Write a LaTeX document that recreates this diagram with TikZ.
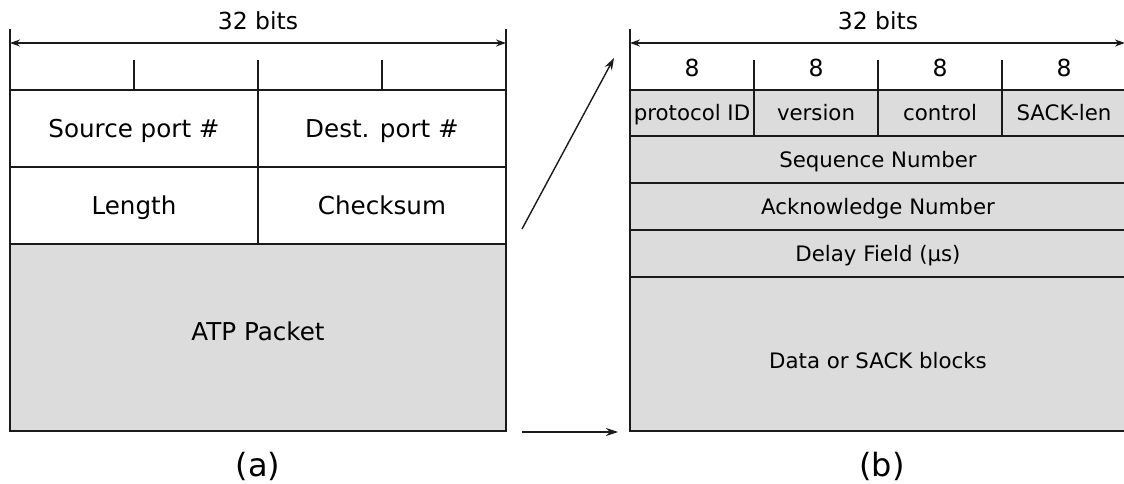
\documentclass[tikz,border=0pt]{standalone}
\usepackage{fontspec}
\setmainfont{DejaVu Sans}
\usetikzlibrary{arrows.meta}
\definecolor{fieldgray}{HTML}{DCDCDC}
\definecolor{ink}{HTML}{1A1A1A}
\begin{document}
\begin{tikzpicture}[x=1bp,y=-1bp,
  line/.style={draw=ink, line width=1.4bp},
  cell/.style={line, text depth=0pt, inner sep=0pt, anchor=north west, outer sep=0pt},
  big/.style={text height=18bp, font=\fontsize{24.6bp}{28bp}\selectfont},
  small/.style={text height=15.5bp, font=\fontsize{21.3bp}{24bp}\selectfont},
  head/.style={text height=17.1bp, text depth=0pt, inner sep=0pt, font=\fontsize{23.5bp}{27bp}\selectfont},
  grayfill/.style={fill=fieldgray},
  dim/.style={line, {Stealth[length=10bp,width=7bp]}-{Stealth[length=10bp,width=7bp]}},
  link/.style={line, -{Stealth[length=12bp,width=8bp]}},
  caption/.style={font=\fontsize{32bp}{36bp}\selectfont}
]
\useasboundingbox (0,0) rectangle (1124,484);

% ---------- (a) outer header ----------
\draw[line] (10,29) -- (10,90);
\draw[line] (506,29) -- (506,90);
\foreach \x in {134,258,382} \draw[line] (\x,60) -- (\x,90);
\coordinate (aL) at (10,43);
\coordinate (aR) at (506,43);
\draw[dim] (aL) -- (aR);
\node[head] (abits) at (258,21) {32 bits};

\node[cell, big, minimum width=248bp, minimum height=77bp] (src) at (10,90) {Source port \#};
\node[cell, big, minimum width=248bp, minimum height=77bp] (dst) at (258,90) {Dest. port \#};
\node[cell, big, minimum width=248bp, minimum height=77bp] (len) at (10,167) {Length};
\node[cell, big, minimum width=248bp, minimum height=77bp] (chk) at (258,167) {Checksum};
% payload label sits a little above the middle
\node[cell, big, grayfill, text depth=13bp, minimum width=496bp, minimum height=187bp] (atp) at (10,244) {ATP Packet};

\node[caption] (capa) at (258,466) {(a)};

% ---------- (b) ATP header ----------
\draw[line] (630,29) -- (630,90);
\draw[line] (1126,29) -- (1126,90);
\foreach \x in {754,878,1002} \draw[line] (\x,60) -- (\x,90);
\coordinate (bL) at (630,43);
\coordinate (bR) at (1125,43);
\draw[dim] (bL) -- (bR);
\node[head] (bbits) at (878,21) {32 bits};

\foreach \x/\n in {692/e1,816/e2,940/e3,1064/e4}
  \node[head] (\n) at (\x,68) {8};

\node[cell, small, grayfill, minimum width=124bp, minimum height=46bp] (pid) at (630,90) {protocol ID};
\node[cell, small, grayfill, minimum width=124bp, minimum height=46bp] (ver) at (754,90) {version};
\node[cell, small, grayfill, minimum width=124bp, minimum height=46bp] (ctl) at (878,90) {control};
\node[cell, small, grayfill, minimum width=124bp, minimum height=46bp] (slen) at (1002,90) {SACK-len};
\node[cell, small, grayfill, minimum width=496bp, minimum height=47bp] (seq) at (630,136) {Sequence Number};
\node[cell, small, grayfill, minimum width=496bp, minimum height=47bp] (ack) at (630,183) {Acknowledge Number};
\node[cell, small, grayfill, minimum width=496bp, minimum height=47bp] (dly) at (630,230) {Delay Field (µs)};
% data label sits a little below the middle
\node[cell, small, grayfill, text height=29.5bp, minimum width=496bp, minimum height=154bp] (data) at (630,277) {Data or SACK blocks};

\node[caption] (capb) at (882,466) {(b)};

% ---------- expansion arrows ----------
\coordinate (u1) at (522,229);
\coordinate (u2) at (614,58);
\coordinate (d1) at (522,432);
\coordinate (d2) at (618,432);
\draw[link] (u1) -- (u2);
\draw[link] (d1) -- (d2);
\end{tikzpicture}
\end{document}
